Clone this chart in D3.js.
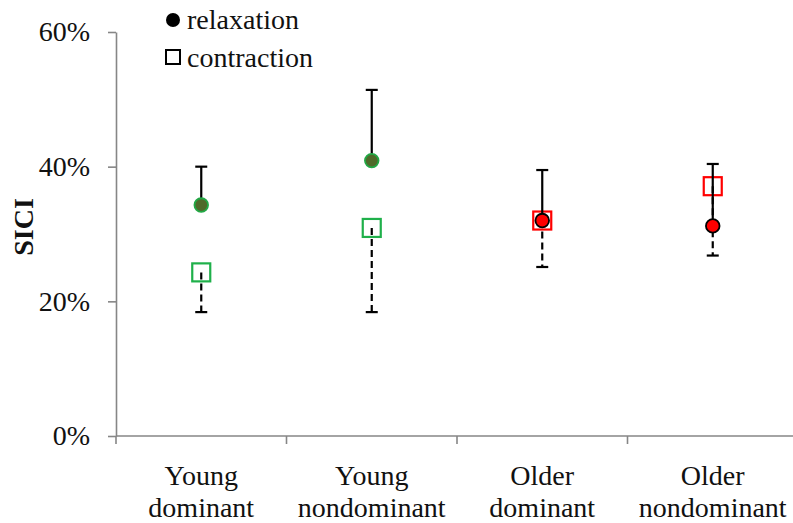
<!DOCTYPE html>
<html>
<head>
<meta charset="utf-8">
<script src="https://cdn.jsdelivr.net/npm/d3@7"></script>
<style>
  body { margin: 0; background: #fff; }
  svg { display: block; }
</style>
</head>
<body>
<svg id="chart" width="793" height="523"></svg>
<script>
// chart values (percent)
var groups = ["Young dominant", "Young nondominant", "Older dominant", "Older nondominant"];
var groupLines = [["Young", "dominant"], ["Young", "nondominant"], ["Older", "dominant"], ["Older", "nondominant"]];
var relaxation = [34.3, 40.9, 32.0, 31.2];
var relaxationErr = [5.7, 10.5, 7.5, 9.2];   // drawn upward
var contraction = [24.3, 30.9, 32.0, 37.1];
var contractionErr = [5.9, 12.5, 6.9, 10.3]; // drawn downward
var yTicks = [0, 20, 40, 60];

var colorMark = ["green", "green", "red", "red"];

var FONT = "Liberation Serif";
var FS = '28px';

var svg = d3.select('#chart');
var margin = { top: 32, right: 0, bottom: 87, left: 116 };
var width = 798 - margin.left;
var height = 523 - margin.top - margin.bottom;

var g = svg.append('g')
  .attr('transform', 'translate(' + margin.left + ',' + margin.top + ')');

var x = d3.scaleBand().domain(groups).range([0, width]);
var y = d3.scaleLinear().domain([0, 60]).range([height, 0]);
var cx = function(i) { return x(groups[i]) + x.bandwidth() / 2; };

var axisColor = "#868686";

// y axis
g.append('g')
  .call(d3.axisLeft(y).tickValues(yTicks).tickSize(8).tickSizeOuter(0).tickFormat(d => d + '%'))
  .attr('font-family', FONT)
  .call(a => a.select('.domain').attr('stroke', axisColor).attr('stroke-width', 1.6))
  .call(a => a.selectAll('.tick line').attr('stroke', axisColor).attr('stroke-width', 1.6))
  .call(a => a.selectAll('.tick text')
    .attr('x', -26)
    .attr('font-size', FS)
    .attr('font-family', FONT)
    .attr('fill', '#111'));

// x axis with ticks at the band boundaries
var xa = g.append('g').attr('transform', 'translate(0,' + height + ')');
xa.append('line')
  .attr('x1', 0).attr('x2', width)
  .attr('stroke', axisColor).attr('stroke-width', 1.6);
xa.selectAll('.bound')
  .data(groups)
  .enter().append('line')
  .attr('x1', d => x(d)).attr('x2', d => x(d))
  .attr('y1', 0).attr('y2', 8)
  .attr('stroke', axisColor).attr('stroke-width', 1.6);
xa.selectAll('.cat')
  .data(groupLines)
  .enter().append('text')
  .attr('text-anchor', 'middle')
  .attr('font-family', FONT)
  .attr('font-size', FS)
  .attr('fill', '#111')
  .each(function(d, i) {
    var t = d3.select(this);
    d.forEach(function(s, k) {
      t.append('tspan')
        .attr('x', cx(i))
        .attr('y', 49 + k * 32)
        .text(s);
    });
  });

// y axis title
svg.append('text')
  .attr('transform', 'translate(33,227) rotate(-90)')
  .attr('text-anchor', 'middle')
  .attr('font-family', FONT)
  .attr('font-size', FS)
  .attr('font-weight', 'bold')
  .attr('fill', '#111')
  .text('SICI');

// contraction squares (open)
var sq = 18;
g.selectAll('.sq')
  .data(contraction)
  .enter().append('rect')
  .attr('x', (d, i) => cx(i) - sq / 2)
  .attr('y', d => y(d) - sq / 2)
  .attr('width', sq).attr('height', sq)
  .attr('fill', 'none')
  .attr('stroke', (d, i) => colorMark[i] == 'green' ? '#1fb04a' : '#ff0000')
  .attr('stroke-width', 2.2);

// contraction error bars: dashed, downward
g.selectAll('.cerr')
  .data(contraction)
  .enter().append('line')
  .attr('x1', (d, i) => cx(i)).attr('x2', (d, i) => cx(i))
  .attr('y1', d => y(d))
  .attr('y2', (d, i) => y(d - contractionErr[i]))
  .attr('stroke', '#000').attr('stroke-width', 2.2)
  .attr('stroke-dasharray', '7,4');
g.selectAll('.ccap')
  .data(contraction)
  .enter().append('line')
  .attr('x1', (d, i) => cx(i) - 6).attr('x2', (d, i) => cx(i) + 6)
  .attr('y1', (d, i) => y(d - contractionErr[i]))
  .attr('y2', (d, i) => y(d - contractionErr[i]))
  .attr('stroke', '#000').attr('stroke-width', 2.2);

// relaxation error bars: solid, upward
g.selectAll('.rerr')
  .data(relaxation)
  .enter().append('line')
  .attr('x1', (d, i) => cx(i)).attr('x2', (d, i) => cx(i))
  .attr('y1', d => y(d))
  .attr('y2', (d, i) => y(d + relaxationErr[i]))
  .attr('stroke', '#000').attr('stroke-width', 2.2);
g.selectAll('.rcap')
  .data(relaxation)
  .enter().append('line')
  .attr('x1', (d, i) => cx(i) - 6).attr('x2', (d, i) => cx(i) + 6)
  .attr('y1', (d, i) => y(d + relaxationErr[i]))
  .attr('y2', (d, i) => y(d + relaxationErr[i]))
  .attr('stroke', '#000').attr('stroke-width', 2.2);

// relaxation circles (filled)
g.selectAll('.dot')
  .data(relaxation)
  .enter().append('circle')
  .attr('cx', (d, i) => cx(i))
  .attr('cy', d => y(d))
  .attr('r', 6.8)
  .attr('fill', (d, i) => colorMark[i] == 'green' ? '#4f6a2a' : '#ff0000')
  .attr('stroke', (d, i) => colorMark[i] == 'green' ? '#22a845' : '#000')
  .attr('stroke-width', 1.8);

// legend
var lg = svg.append('g').attr('font-family', FONT);
lg.append('circle')
  .attr('cx', 173).attr('cy', 20).attr('r', 7)
  .attr('fill', '#000');
lg.append('text')
  .attr('x', 187).attr('y', 29)
  .attr('font-family', FONT)
  .attr('font-size', FS).attr('fill', '#111')
  .text('relaxation');
lg.append('rect')
  .attr('x', 166).attr('y', 50).attr('width', 14).attr('height', 14)
  .attr('fill', 'none').attr('stroke', '#000').attr('stroke-width', 2);
lg.append('text')
  .attr('x', 187).attr('y', 67)
  .attr('font-family', FONT)
  .attr('font-size', FS).attr('fill', '#111')
  .text('contraction');
</script>
</body>
</html>
